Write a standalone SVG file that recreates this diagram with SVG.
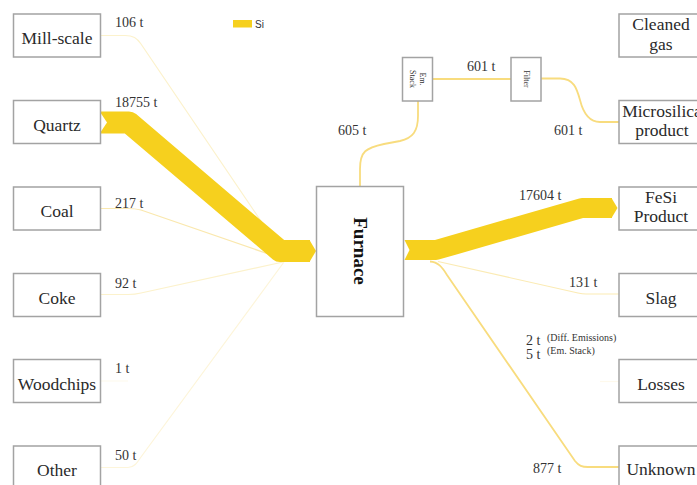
<svg xmlns="http://www.w3.org/2000/svg" width="697" height="485" viewBox="0 0 697 485">
<defs>
<style>
.box{fill:#fff;stroke:#a3a3a3;stroke-width:1.5}
.lbl{font-family:"Liberation Serif","Times New Roman",serif;font-size:17.5px;fill:#2a2a2a;text-anchor:middle}
.q{font-family:"Liberation Serif","Times New Roman",serif;font-size:14px;fill:#333}
.sm{font-family:"Liberation Serif","Times New Roman",serif;font-size:10px;fill:#333}
.band{fill:none;stroke:#F6D01E;stroke-linejoin:round}
.thin{fill:none;stroke:#F8DC7E;stroke-width:1.8}
.faint{fill:none;stroke-width:1.2}
</style>
</defs>
<rect width="697" height="485" fill="#fff"/>

<g id="connectors">
  <!-- faint input flows -->
  <path class="faint" stroke="#FCF2CC" d="M100.5,35.5 H125 C133,35.5 137,38 141,44 L286,258"/>
  <path class="faint" stroke="#FAE8AE" d="M100.5,208.5 H128 C134,208.5 137,209 141,210 L283,259"/>
  <path class="faint" stroke="#FCF2CC" d="M100.5,294.5 H128 C134,294.5 137,294 141,293 L283,262"/>
  <path class="faint" stroke="#FEFAEE" d="M100.5,381 H128"/>
  <path class="faint" stroke="#FDF5DA" d="M100.5,467.5 H128 C134,467.5 137,463 141,457 L284,262"/>
  <!-- quartz band -->
  <path class="band" stroke-width="22" d="M100,122.5 H129 L280,251 H310"/>
  <polygon points="99,110.5 107,122.5 99,134.5" fill="#fff"/>
  <polygon points="309.5,240 316,251 309.5,262" fill="#F6D01E"/>
  <!-- output FeSi band -->
  <path class="band" stroke-width="20" d="M403,250 H436 L582,208 H612"/>
  <polygon points="404,239 409.5,250 404,261" fill="#fff"/>
  <polygon points="611.5,198 617.5,208 611.5,218" fill="#F6D01E"/>
  <!-- slag -->
  <path class="faint" stroke="#FBEBB4" stroke-width="1.4" d="M438,261.5 L578,293 C581,293.7 583,294 586,294 H619"/>
  <!-- losses -->
  <path class="faint" stroke="#FEF9EC" d="M600,381.5 H619"/>
  <!-- unknown -->
  <path class="thin" d="M430,261.5 C438,262 442,267 447,275 L575,461 C579,466 582,467 588,467 H619"/>
  <!-- furnace to Em stack -->
  <path class="thin" d="M360,186 V169 C360,151 366,148 384,144 L400,141 C413,138 418,131 418,116 V101"/>
  <!-- Em stack to filter -->
  <path class="thin" d="M432.5,79 H511"/>
  <!-- filter to microsilica -->
  <path class="thin" d="M541,78.5 H560 C574,78.5 577,89 580,100 C583,112 588,122 600,122 H619"/>
</g>

<g id="legend">
  <rect x="233" y="20" width="19" height="7.5" fill="#F6D01E"/>
  <text x="255" y="27.5" font-family="Liberation Sans,Arial,sans-serif" font-size="10" fill="#333">Si</text>
</g>

<g id="mill-scale"><rect class="box" x="13.5" y="14" width="87" height="43"/><text class="lbl" x="57" y="44">Mill-scale</text></g>
<g id="quartz"><rect class="box" x="13.5" y="100.5" width="87" height="43"/><text class="lbl" x="57" y="130.5">Quartz</text></g>
<g id="coal"><rect class="box" x="13.5" y="187" width="87" height="43"/><text class="lbl" x="57" y="217">Coal</text></g>
<g id="coke"><rect class="box" x="13.5" y="273.5" width="87" height="43"/><text class="lbl" x="57" y="303.5">Coke</text></g>
<g id="woodchips"><rect class="box" x="13.5" y="359.5" width="87" height="43"/><text class="lbl" x="57" y="389.5">Woodchips</text></g>
<g id="other"><rect class="box" x="13.5" y="446" width="87" height="43"/><text class="lbl" x="57" y="476">Other</text></g>

<g id="furnace"><rect class="box" x="316.5" y="186.5" width="87" height="130"/>
  <text transform="translate(360,251) rotate(90)" x="0" y="6.5" font-family="Liberation Serif,Times New Roman,serif" font-size="19" font-weight="bold" fill="#111" text-anchor="middle">Furnace</text></g>

<g id="em-stack"><rect class="box" x="402.5" y="57.5" width="30" height="43.5"/>
  <text transform="translate(417,79) rotate(90)" font-family="Liberation Serif,Times New Roman,serif" font-size="8" fill="#333" text-anchor="middle"><tspan x="0" y="-3">Em.</tspan><tspan x="0" y="7.5">Stack</tspan></text></g>
<g id="filter"><rect class="box" x="511" y="57.5" width="30" height="43.5"/>
  <text transform="translate(526,79) rotate(90)" x="0" y="2.5" font-family="Liberation Serif,Times New Roman,serif" font-size="8" fill="#333" text-anchor="middle">Filter</text></g>

<g id="cleaned-gas"><rect class="box" x="619" y="14" width="87" height="43"/><text class="lbl" x="661"><tspan x="661" y="30">Cleaned</tspan><tspan x="661" y="49.5">gas</tspan></text></g>
<g id="microsilica"><rect class="box" x="619" y="100.5" width="87" height="43"/><text class="lbl"><tspan x="662" y="117">Microsilica</tspan><tspan x="662" y="135.5">product</tspan></text></g>
<g id="fesi"><rect class="box" x="619" y="187" width="87" height="43"/><text class="lbl"><tspan x="661" y="202.5">FeSi</tspan><tspan x="661" y="222">Product</tspan></text></g>
<g id="slag"><rect class="box" x="619" y="273.5" width="87" height="43"/><text class="lbl" x="661" y="303.5">Slag</text></g>
<g id="losses"><rect class="box" x="619" y="359.5" width="87" height="43"/><text class="lbl" x="661" y="389.5">Losses</text></g>
<g id="unknown"><rect class="box" x="619" y="446" width="87" height="43"/><text class="lbl" x="661" y="475">Unknown</text></g>

<g id="labels">
  <text class="q" x="115" y="27">106 t</text>
  <text class="q" x="115" y="106.5">18755 t</text>
  <text class="q" x="115" y="207.5">217 t</text>
  <text class="q" x="115" y="287.5">92 t</text>
  <text class="q" x="115" y="373">1 t</text>
  <text class="q" x="115" y="460">50 t</text>
  <text class="q" x="338" y="135">605 t</text>
  <text class="q" x="467" y="71">601 t</text>
  <text class="q" x="554" y="135">601 t</text>
  <text class="q" x="519" y="199.5">17604 t</text>
  <text class="q" x="569" y="287">131 t</text>
  <text class="q" x="526" y="345" font-size="15">2 t</text>
  <text class="sm" x="547" y="341">(Diff. Emissions)</text>
  <text class="q" x="526" y="358.5" font-size="15">5 t</text>
  <text class="sm" x="547" y="354">(Em. Stack)</text>
  <text class="q" x="533" y="473">877 t</text>
</g>
</svg>
